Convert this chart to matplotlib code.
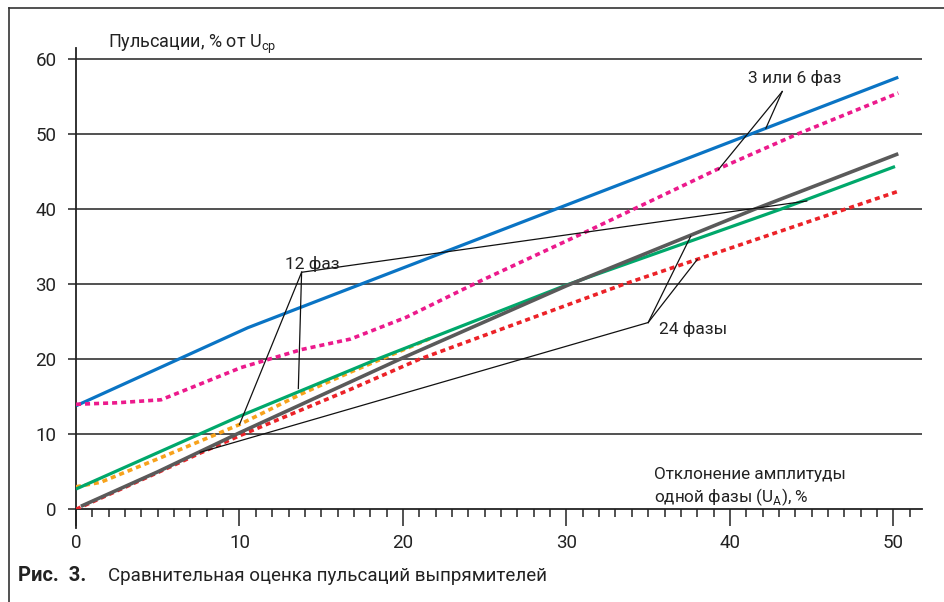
import numpy as np
import matplotlib; matplotlib.use("Agg")
import matplotlib.pyplot as plt
from matplotlib.lines import Line2D

plt.rcParams["font.family"] = ["Roboto", "DejaVu Sans"]
plt.rcParams["mathtext.fontset"] = "custom"
plt.rcParams["mathtext.rm"] = "Roboto"

# --- data (x: deviation of one phase amplitude, %; y: ripple, % of U_cp)
blue_x = [0, 10.5, 50.3]
blue_y = [13.8, 24.2, 57.6]
magenta_x = [0, 2.5, 5.2, 7.6, 10.1, 13.8, 16.8, 20.2, 24.5, 31.5, 39.2, 44.1, 50.3]
magenta_y = [14.0, 14.2, 14.6, 16.7, 18.9, 21.3, 22.7, 25.6, 30.2, 37.3, 45.3, 50.0, 55.5]
green_x = [0, 10, 18.4, 30, 43.1, 50.1]
green_y = [2.7, 12.4, 20.0, 29.9, 40.0, 45.7]
gray_x = [0.3, 5, 10, 20, 30, 41.5, 50.3]
gray_y = [0.4, 5.0, 10.2, 20.2, 29.8, 40.0, 47.4]
red_x = [0, 5, 7.6, 10, 16.8, 21, 33.5, 50.3]
red_y = [0, 4.9, 7.5, 9.8, 16.0, 20.0, 30.0, 42.4]
orange_x = [0, 1.5, 5.2, 10, 13.8, 16.8, 21.7]
orange_y = [3.0, 3.6, 6.9, 11.3, 15.4, 18.3, 22.8]

# leader lines: apex -> ends
lead_36 = [(43.2, 55.7), [(39.3, 45.3), (42.2, 50.8)]]
lead_12 = [(13.8, 31.6), [(10.0, 11.3), (13.6, 16.1), (44.7, 41.1)]]
lead_24 = [(35.0, 24.9), [(37.6, 36.4), (38.0, 33.3), (7.6, 7.6)]]

yticks = [0, 10, 20, 30, 40, 50, 60]
xticks = [0, 10, 20, 30, 40, 50]

W, H = 945, 602
fig = plt.figure(figsize=(W/100, H/100), dpi=100)
ax = fig.add_axes([76/W, 1-509.3/H, 846/W, 461.3/H])
ax.set_xlim(0, 51.75)
ax.set_ylim(0, 61.5)

for s in ["top", "right", "left"]:
    ax.spines[s].set_visible(False)
ax.spines["bottom"].set_linewidth(1.3)
ax.spines["bottom"].set_color("#222222")

for yv in yticks[1:]:
    ax.axhline(yv, color="#222222", lw=1.1, zorder=1)
# vertical axis (extends below zero like the reference)
ax.plot([0, 0], [-2.5, 61.5], color="#222222", lw=1.3, clip_on=False, zorder=2)

ax.set_yticks(yticks)
ax.set_xticks(xticks)
ax.set_xticks(np.arange(0, 52, 1), minor=True)
ax.tick_params(axis="y", length=6, width=1.1, pad=8, labelsize=13.5, colors="#222222")
ax.tick_params(axis="x", which="major", length=12, width=1.1, pad=6, labelsize=13.5, colors="#222222")
ax.tick_params(axis="x", which="minor", length=5.5, width=1.1, colors="#222222")

dot = (0, (1.4, 1.1))
ax.plot(blue_x, blue_y, color="#0a74c4", lw=2.3, zorder=4, solid_capstyle="butt")
ax.plot(magenta_x, magenta_y, color="#ec1a8c", lw=2.6, ls=dot, zorder=4)
ax.plot(green_x, green_y, color="#00a86b", lw=2.3, zorder=4, solid_capstyle="butt")
ax.plot(orange_x, orange_y, color="#f7a21b", lw=2.6, ls=dot, zorder=3)
ax.plot(red_x, red_y, color="#ec2228", lw=2.6, ls=dot, zorder=4)
ax.plot(gray_x, gray_y, color="#5a5a5a", lw=2.6, zorder=5, solid_capstyle="butt")

for apex, ends in (lead_36, lead_12, lead_24):
    for e in ends:
        ax.plot([apex[0], e[0]], [apex[1], e[1]], color="#111111", lw=0.9, zorder=6)

def ftext(px, py, s, **kw):
    fig.text(px/W, 1-py/H, s, **kw)

ftext(795, 83, "3 или 6 фаз", fontsize=12.5, ha="center", color="#222222")
ftext(285, 269, "12 фаз", fontsize=12.5, color="#222222")
ftext(659, 334, "24 фазы", fontsize=12.5, color="#222222")
ftext(654, 479, "Отклонение амплитуды", fontsize=12.3, color="#222222")
ftext(654, 502, r"одной фазы (U$_{\rm А}$), %", fontsize=12.3, color="#222222")
ftext(108, 48, r"Пульсации, % от U$_{\rm ср}$", fontsize=13, color="#222222")

ftext(18, 581, "Рис.  3.", fontsize=14.5, fontweight="bold", color="#222222")
ftext(108, 581, "Сравнительная оценка пульсаций выпрямителей", fontsize=13.5, color="#222222")

# page frame (top and left edges only, as in the crop)
fig.add_artist(Line2D([9/W, 9/W], [0, 1-8/H], color="#333333", lw=1.2))
fig.add_artist(Line2D([9/W, 1], [1-8/H, 1-8/H], color="#333333", lw=1.2))

fig.savefig("out.png", dpi=100)
